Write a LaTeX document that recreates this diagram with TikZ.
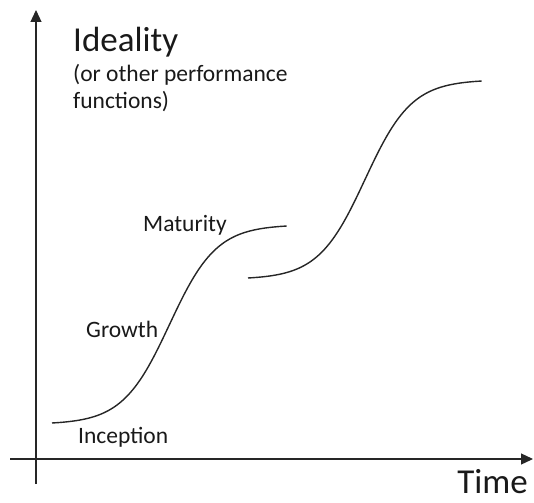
\documentclass[tikz,border=0pt]{standalone}
\usepackage{fontspec}
\setmainfont{Carlito}
\usetikzlibrary{arrows.meta}
\tikzset{
  axis/.style={line width=1.2pt, draw=black!85, -{Triangle[length=12pt,width=11pt]}},
  scurve/.style={line width=1.4pt, draw=black!85, smooth},
  label/.style={inner sep=0pt, anchor=base west, text=black!90},
  big/.style={label, font=\fontsize{35}{40}\selectfont},
  small/.style={label, font=\fontsize{23.5}{27}\selectfont, align=left},
}
\begin{document}
\begin{tikzpicture}[x=1pt, y=-1pt]
  \useasboundingbox (0,0) rectangle (534,502);
  % axes
  \coordinate (yfoot) at (36,484);
  \coordinate (ytip) at (36,10);
  \coordinate (xfoot) at (10,459);
  \coordinate (xtip) at (533,459);
  \draw[axis] (yfoot) -- (ytip);
  \draw[axis] (xfoot) -- (xtip);
  % two S-shaped growth curves
  \draw[scurve] plot[domain=0:1, samples=120]
    ({52+235*\x}, {423-197*(0.5+0.5*tanh(5*(\x-0.5))/tanh(2.5))});
  \draw[scurve] plot[domain=0:1, samples=120]
    ({248+234*\x}, {278-197*(0.5+0.5*tanh(5*(\x-0.5))/tanh(2.5))});
  % labels
  \node[big] (ideality) at (73,52) {Ideality};
  \node[small, anchor=north west] (other) at (73,64) {(or other performance\\functions)};
  \node[small] (maturity) at (143,231) {Maturity};
  \node[small] (growth) at (86,337) {Growth};
  \node[small] (inception) at (78,443) {Inception};
  \node[big, anchor=base east] (time) at (528,493) {Time};
\end{tikzpicture}
\end{document}
